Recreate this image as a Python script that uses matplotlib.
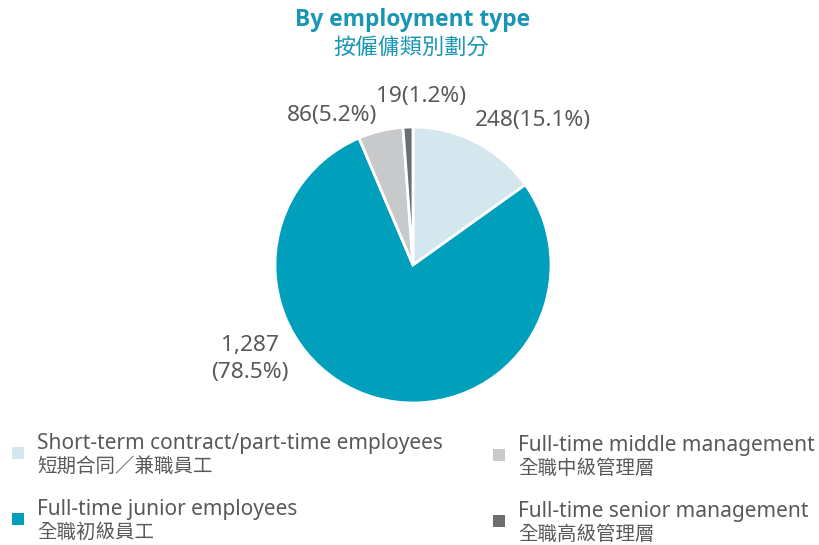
import matplotlib
matplotlib.use('Agg')
import matplotlib.pyplot as plt
from matplotlib.patches import Rectangle

plt.rcParams['font.family'] = ['Noto Sans', 'Noto Sans CJK TC', 'DejaVu Sans']

# data
counts = [248, 1287, 86, 19]
shares = [15.1, 78.5, 5.2, 1.2]
names_en = ['Short-term contract/part-time employees', 'Full-time junior employees',
            'Full-time middle management', 'Full-time senior management']
names_zh = ['短期合同／兼職員工', '全職初級員工', '全職中級管理層', '全職高級管理層']
colors = ['#d4e6ee', '#009fbc', '#c8c9ca', '#6d6e70']

TEXT = '#58595b'
TEAL = '#1896b2'

W, H = 820, 545
fig = plt.figure(figsize=(W / 100, H / 100), dpi=100)

# pie axes: centre (413, 265) px, radius 138 px
cx, cy, r = 413, 265, 138
ax = fig.add_axes([(cx - r) / W, 1 - (cy + r) / H, 2 * r / W, 2 * r / H])
ax.pie(counts, colors=colors, startangle=90, counterclock=False, radius=1,
       wedgeprops=dict(edgecolor='white', linewidth=2))
ax.set_xlim(-1, 1)
ax.set_ylim(-1, 1)
ax.axis('off')

# label placement in pie data units
label_pos = [(0.87, 1.05), (-1.18, -0.68), (-0.59, 1.08), (0.06, 1.22)]
for i, (n, s) in enumerate(zip(counts, shares)):
    if n >= 1000:
        txt = f'{n:,}\n({s}%)'
    else:
        txt = f'{n}({s}%)'
    ax.text(*label_pos[i], txt, ha='center', va='center', fontsize=16.3,
            color=TEXT, linespacing=1.35)

# title
fig.text(413 / W, 1 - 20 / H, 'By employment type', ha='center', va='center',
         fontsize=16.4, fontweight='bold', color=TEAL,
         family=['Open Sans', 'DejaVu Sans'])
fig.text(411 / W, 1 - 48 / H, '按僱傭類別劃分', ha='center', va='center',
         fontsize=16, color=TEAL, fontweight='medium')

# legend, drawn by hand
leg_x = [12, 12, 493, 493]
leg_y = [453, 519, 455, 521]
for i in range(4):
    sx, sy = leg_x[i], leg_y[i]
    fig.patches.append(Rectangle((sx / W, 1 - (sy + 6) / H), 12 / W, 12 / H,
                                 transform=fig.transFigure, facecolor=colors[i],
                                 edgecolor='none'))
    tx = sx + 25
    fig.text(tx / W, 1 - (sy - 10) / H, names_en[i], ha='left', va='center',
             fontsize=15, color=TEXT)
    fig.text(tx / W, 1 - (sy + 14) / H, names_zh[i], ha='left', va='center',
             fontsize=14, color=TEXT)

fig.savefig('out.png', dpi=100, facecolor='white')
